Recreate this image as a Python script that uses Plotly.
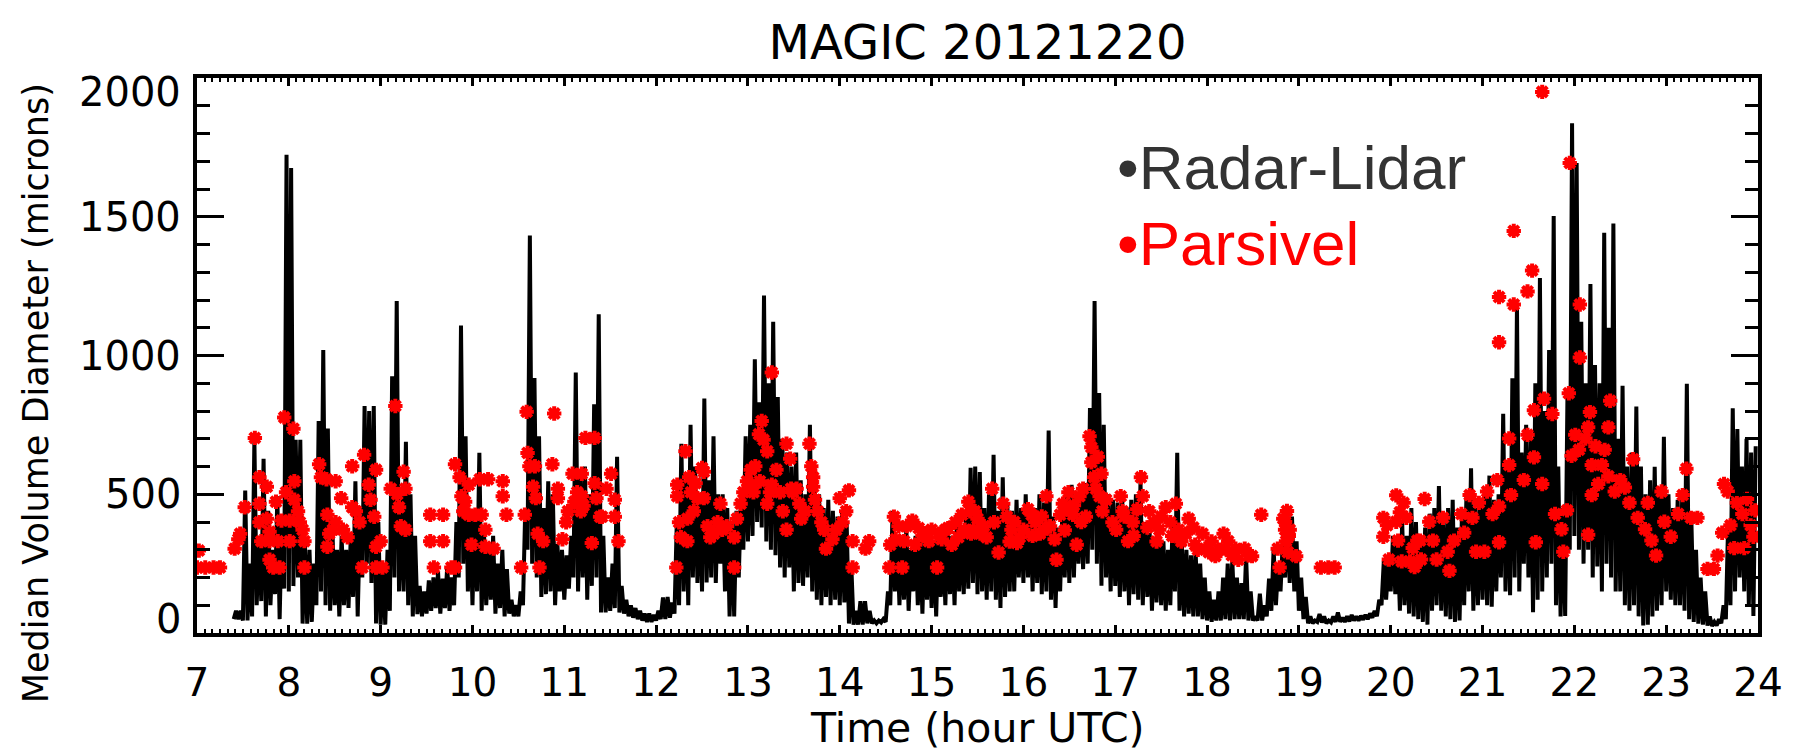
import plotly.graph_objects as go

# ---------------- data ----------------
# Radar-Lidar median volume diameter: minimum / maximum in consecutive 0.05 h bins
rl_start = 7.40
rl_step = 0.05
rl_low = [
    50, 50, 45, 45, 60, 100, 115, 60, 100, 140, 50, 160,
    150, 169, 200, 34, 34, 40, 100, 150, 100, 80, 100, 60, 100, 90, 130, 60, 200, 250, 180, 34,
    30, 30, 80, 200, 150, 150, 100, 60, 68, 60, 70, 80, 90, 70, 90, 80, 100, 200, 250, 150,
    100, 150, 80, 100, 120, 70, 90, 60, 70, 60, 60, 100, 300, 250, 200, 130, 140, 150, 100, 150,
    120, 160, 200, 150, 200, 120, 170, 200, 74, 74, 80, 90, 74, 70, 60, 55, 50, 45, 40, 40,
    45, 50, 50, 55, 70, 100, 150, 100, 200, 180, 150, 182, 200, 180, 250, 150, 60, 60, 200, 300,
    330, 350, 400, 380, 330, 300, 280, 236, 200, 236, 150, 180, 170, 200, 150, 120, 100, 130, 100, 120,
    100, 110, 34, 30, 30, 30, 35, 35, 35, 38, 40, 100, 150, 100, 120, 80, 150, 100, 70, 120,
    90, 60, 130, 100, 140, 100, 150, 140, 160, 180, 140, 150, 120, 150, 120, 90, 130, 150, 150, 200,
    180, 200, 150, 180, 140, 150, 120, 90, 150, 200, 180, 200, 250, 230, 250, 300, 250, 170, 200, 150,
    170, 130, 150, 100, 140, 120, 100, 130, 80, 110, 100, 80, 100, 150, 80, 60, 70, 60, 60, 50,
    45, 40, 45, 45, 50, 45, 50, 50, 50, 45, 45, 45, 45, 60, 80, 100, 150, 200, 180, 150,
    80, 50, 35, 35, 40, 38, 35, 38, 40, 40, 40, 42, 45, 45, 48, 50, 55, 60, 100, 120,
    150, 140, 80, 100, 70, 60, 50, 40, 30, 80, 100, 80, 60, 50, 40, 45, 100, 150, 80, 100,
    120, 100, 95, 150, 200, 150, 136, 200, 150, 250, 200, 75, 120, 150, 200, 250, 100, 60, 61, 300,
    350, 300, 250, 300, 200, 240, 150, 250, 200, 150, 150, 100, 80, 100, 60, 27, 30, 60, 80, 100,
    150, 120, 100, 100, 80, 50, 40, 34, 30, 27, 25, 27, 35, 50, 100, 150, 200, 150, 100, 61,
]
rl_high = [
    80, 80, 513, 250, 696, 350, 628, 440, 300, 493, 420, 1723,
    1676, 696, 696, 330, 300, 250, 764, 1020, 737, 370, 300, 350, 300, 350, 547, 400, 818, 800, 818, 400,
    250, 300, 925, 1196, 500, 689, 500, 350, 170, 150, 190, 200, 220, 196, 240, 200, 400, 1108, 709, 440,
    440, 649, 370, 300, 350, 250, 300, 230, 120, 100, 150, 450, 1432, 919, 709, 450, 547, 500, 320, 300,
    280, 350, 939, 574, 600, 500, 824, 1149, 350, 200, 250, 635, 170, 120, 100, 90, 80, 70, 70, 65,
    80, 128, 130, 110, 400, 682, 550, 750, 600, 500, 845, 550, 709, 500, 500, 450, 400, 440, 500, 709,
    750, 986, 831, 1216, 900, 1122, 850, 700, 650, 600, 650, 550, 500, 750, 600, 500, 450, 480, 440, 420,
    440, 400, 250, 80, 115, 115, 80, 45, 45, 50, 150, 440, 350, 330, 380, 300, 350, 330, 360, 340,
    330, 370, 330, 380, 350, 400, 380, 420, 595, 600, 580, 450, 500, 642, 440, 561, 470, 440, 480, 450,
    500, 460, 450, 500, 470, 730, 420, 380, 450, 500, 534, 500, 530, 540, 811, 1196, 865, 750, 500, 480,
    470, 500, 450, 480, 500, 547, 400, 360, 340, 370, 330, 300, 400, 649, 330, 300, 280, 300, 250, 200,
    150, 120, 150, 200, 250, 263, 200, 180, 277, 150, 60, 142, 100, 196, 304, 250, 330, 440, 420, 330,
    200, 130, 60, 45, 68, 60, 45, 60, 74, 55, 60, 65, 60, 62, 65, 70, 80, 120, 260, 250,
    350, 330, 400, 350, 450, 400, 350, 380, 430, 450, 530, 400, 450, 480, 380, 420, 500, 594, 450, 480,
    500, 567, 480, 500, 790, 600, 918, 1177, 650, 750, 700, 900, 1279, 800, 1020, 1503, 600, 450, 864, 1837,
    1694, 1122, 900, 1258, 966, 900, 1442, 1100, 1476, 700, 891, 600, 650, 816, 600, 500, 550, 599, 500, 707,
    500, 450, 480, 500, 898, 400, 300, 200, 150, 60, 40, 50, 100, 400, 810, 735, 600, 700, 650, 673,
]

# Parsivel observations: (hour UTC, median volume diameter in microns)
parsivel_obs = [
    (7.0, 236), (7.02, 297), (7.09, 236), (7.18, 236), (7.25, 236),
    (7.41, 304), (7.45, 338), (7.47, 358), (7.52, 453), (7.63, 703),
    (7.68, 561), (7.68, 466), (7.68, 399), (7.70, 331),
    (7.76, 527), (7.76, 412), (7.79, 365), (7.79, 331), (7.79, 264), (7.83, 236),
    (7.86, 473), (7.88, 331), (7.9, 236), (7.92, 405), (7.95, 777),
    (7.97, 507), (8.01, 405), (8.01, 331), (8.05, 736), (8.06, 547),
    (8.06, 480), (8.1, 439), (8.12, 399), (8.15, 372), (8.17, 331), (8.17, 236),
    (8.33, 608), (8.35, 561), (8.41, 554), (8.51, 547),
    (8.42, 426), (8.44, 358), (8.42, 311),
    (8.48, 372), (8.51, 399), (8.57, 486), (8.59, 372), (8.64, 345), (8.69, 601),
    (8.69, 453), (8.73, 439), (8.77, 399), (8.8, 236),
    (8.82, 642), (8.87, 534), (8.89, 480), (8.93, 419),
    (8.95, 588), (8.95, 311), (9.0, 331), (8.95, 236), (9.02, 236),
    (9.11, 520), (9.16, 818), (9.18, 500), (9.2, 453), (9.22, 385), (9.25, 581), (9.27, 520), (9.27, 372),
    (9.54, 426), (9.54, 331), (9.58, 236), (9.68, 426), (9.68, 331), (9.77, 236), (9.81, 236),
    (9.81, 608), (9.86, 561), (9.88, 493), (9.9, 439), (9.92, 473), (9.96, 534), (9.96, 426), (9.99, 318), (10.03, 426),
    (10.08, 554), (10.1, 426), (10.14, 372), (10.14, 311), (10.17, 554), (10.23, 304),
    (10.33, 547), (10.33, 493), (10.37, 426),
    (10.53, 236), (10.57, 426), (10.59, 797), (10.6, 649), (10.62, 601), (10.68, 601), (10.66, 527), (10.69, 486),
    (10.71, 358), (10.73, 236), (10.77, 331),
    (10.87, 608), (10.89, 791), (10.93, 520), (10.93, 486),
    (10.98, 338), (11.02, 399), (11.04, 439), (11.09, 574), (11.11, 473), (11.14, 507), (11.18, 439), (11.23, 703),
    (11.19, 574), (11.19, 493), (11.21, 459), (11.3, 324), (11.33, 703),
    (11.33, 540), (11.35, 486), (11.39, 419), (11.41, 419),
    (11.46, 520), (11.51, 574), (11.55, 480), (11.55, 419), (11.59, 331),
    (12.22, 236), (12.23, 534), (12.23, 493), (12.25, 399), (12.27, 345),
    (12.32, 655), (12.36, 561), (12.38, 507), (12.43, 540), (12.45, 486), (12.5, 595), (12.52, 581), (12.52, 486),
    (12.34, 412), (12.34, 331), (12.41, 439), (12.56, 385), (12.59, 345), (12.63, 358), (12.67, 399), (12.7, 466),
    (12.72, 372), (12.77, 385), (12.85, 236), (12.85, 345), (12.88, 412), (12.92, 466), (12.95, 507), (12.99, 547),
    (13.03, 588), (13.04, 534), (13.08, 601), (13.12, 716), (13.15, 764), (13.17, 696), (13.21, 655), (13.24, 507),
    (13.26, 939),
    (13.06, 507), (13.13, 547), (13.21, 466), (13.26, 534), (13.31, 588), (13.35, 507), (13.38, 439), (13.42, 372),
    (13.42, 682), (13.46, 628), (13.47, 520), (13.49, 507), (13.53, 520), (13.56, 466), (13.58, 412), (13.62, 439),
    (13.67, 682), (13.69, 601), (13.71, 561), (13.71, 527), (13.73, 480), (13.76, 439), (13.8, 399), (13.83, 372), (13.85, 304),
    (14.0, 486), (14.1, 514), (14.07, 439), (14.03, 399), (13.96, 372), (13.92, 338), (14.14, 331), (14.14, 236),
    (14.28, 304), (14.32, 331),
    (14.54, 236), (14.55, 318), (14.59, 419), (14.64, 385), (14.68, 236), (14.73, 385), (14.79, 405), (14.86, 378),
    (14.93, 358), (15.0, 372), (15.06, 236), (15.08, 358), (15.15, 372), (15.18, 378), (15.26, 399), (15.33, 426),
    (15.4, 473), (15.47, 439),
    (14.61, 338), (14.7, 331), (14.82, 318), (14.9, 351), (14.97, 331), (15.11, 338), (15.22, 318), (15.29, 345),
    (15.36, 372), (15.43, 358),
    (15.42, 439), (15.46, 372), (15.5, 412), (15.53, 358), (15.57, 385), (15.6, 345),
    (15.66, 520), (15.68, 399), (15.73, 290),
    (15.78, 466), (15.82, 419), (15.87, 372), (15.93, 324), (15.96, 345), (16.0, 372), (16.05, 446), (16.09, 426),
    (16.13, 399), (16.18, 358), (16.22, 372), (16.25, 493), (16.29, 385), (16.34, 338), (16.36, 264),
    (15.85, 330), (15.9, 400), (16.1, 350), (16.2, 420),
    (16.4, 426), (16.43, 466), (16.49, 507), (16.5, 446), (16.54, 426), (16.58, 318), (16.61, 493), (16.65, 520), (16.68, 419),
    (16.45, 370), (16.55, 460), (16.63, 400),
    (16.72, 709), (16.74, 669), (16.74, 615), (16.81, 635), (16.77, 561), (16.85, 574), (16.79, 520), (16.83, 493),
    (16.86, 439), (16.9, 480), (16.97, 399), (17.01, 372), (17.06, 493), (17.08, 439), (17.14, 331), (17.19, 399),
    (17.24, 446), (17.28, 561), (17.3, 493), (17.37, 439), (17.42, 399), (17.48, 372), (17.55, 453), (17.6, 399),
    (17.66, 466), (17.69, 372), (17.77, 358), (17.8, 412), (17.87, 318), (17.95, 358), (17.98, 304), (18.02, 291),
    (17.1, 420), (17.2, 350), (17.35, 380), (17.45, 330), (17.5, 420), (17.62, 350), (17.72, 330), (17.85, 380),
    (17.9, 300), (18.05, 330), (18.13, 300), (18.27, 280), (18.45, 280),
    (18.09, 277), (18.18, 358), (18.2, 304), (18.23, 331), (18.31, 304), (18.34, 264), (18.41, 304), (18.49, 277),
    (18.59, 426), (18.77, 304), (18.79, 236), (18.83, 412), (18.85, 372), (18.86, 331), (18.88, 291), (18.9, 372),
    (18.97, 277), (18.85, 400), (18.87, 440), (18.89, 350),
    (19.24, 236), (19.32, 236), (19.39, 236),
    (19.92, 415), (19.92, 347), (19.96, 388), (19.98, 265), (20.06, 496), (20.06, 401), (20.08, 333),
    (20.12, 258), (20.21, 258), (20.29, 333), (20.33, 265),
    (20.1, 435), (20.14, 469), (20.17, 415), (20.24, 306), (20.26, 238), (20.32, 333), (20.37, 483), (20.42, 401),
    (20.46, 333), (20.5, 265), (20.57, 415), (20.62, 293), (20.64, 224), (20.69, 333), (20.77, 429), (20.8, 361),
    (20.86, 497), (20.89, 415), (20.93, 293), (20.96, 469), (21.02, 293), (21.05, 510), (21.11, 429), (21.16, 551),
    (21.18, 456), (21.18, 327), (21.18, 1211), (21.18, 1048),
    (21.29, 701), (21.29, 605), (21.31, 497), (21.34, 1184), (21.34, 1449), (21.45, 551), (21.49, 714), (21.49, 1231),
    (21.54, 1306), (21.56, 803), (21.56, 633), (21.58, 327), (21.65, 537), (21.67, 844), (21.76, 789), (21.79, 429),
    (21.86, 374), (21.88, 293), (21.92, 442), (21.65, 1950),
    (21.94, 864), (21.95, 1694), (22.06, 1184), (22.06, 993),
    (21.97, 639), (22.01, 714), (22.05, 660), (22.12, 701), (22.15, 741), (22.17, 796), (22.19, 605), (22.23, 673),
    (22.26, 537), (22.3, 605), (22.33, 660), (22.37, 565), (22.37, 741), (22.39, 837), (22.15, 354), (22.19, 497),
    (22.44, 510), (22.5, 551), (22.55, 524), (22.6, 469), (22.64, 626), (22.69, 415), (22.77, 374), (22.8, 469),
    (22.84, 333), (22.89, 279), (22.95, 510), (22.98, 401), (23.05, 347), (23.13, 429), (23.18, 497), (23.22, 592),
    (23.27, 415), (23.34, 415),
    (23.45, 231), (23.52, 231), (23.56, 279), (23.61, 361), (23.63, 537), (23.67, 510), (23.7, 388), (23.74, 306),
    (23.77, 469), (23.83, 429), (23.85, 306), (23.88, 483), (23.92, 388), (23.95, 347), (23.97, 442),
]

x_tick_vals = list(range(7, 25))
x_tick_text = [str(v) for v in x_tick_vals]
y_tick_vals = [0, 500, 1000, 1500, 2000]
y_tick_text = ["0", "500", "1000", "1500", "2000"]

title_text = "MAGIC 20121220"
x_title = "Time (hour UTC)"
y_title = "Median Volume Diameter (microns)"
legend_labels = ["\u2022Radar-Lidar", "\u2022Parsivel"]

# ---------------- build figure ----------------
rl_x, rl_y = [], []
for i, (lo, hi) in enumerate(zip(rl_low, rl_high)):
    t = rl_start + i * rl_step
    rl_x += [t, t + rl_step / 2]
    rl_y += [lo, hi]

pv_x = [p[0] for p in parsivel_obs]
pv_y = [p[1] for p in parsivel_obs]

HFONT = "DejaVu Sans"

fig = go.Figure()
fig.add_trace(go.Scatter(x=rl_x, y=rl_y, mode="lines",
                         line=dict(color="black", width=4), name="Radar-Lidar",
                         hoverinfo="skip"))
fig.add_trace(go.Scatter(x=pv_x, y=pv_y, mode="markers", name="Parsivel",
                         marker=dict(symbol="asterisk-open", size=12, color="red",
                                     line=dict(color="red", width=4))))

axis_common = dict(showline=True, linecolor="black", linewidth=4, mirror="ticks",
                   showgrid=False, zeroline=False, ticks="inside", tickcolor="black",
                   automargin=False)

fig.update_xaxes(range=[7, 24], tickmode="array", tickvals=x_tick_vals, ticktext=x_tick_text,
                 ticklen=8, tickwidth=3,
                 minor=dict(ticks="inside", dtick=1 / 12, tick0=7, ticklen=4, tickwidth=2,
                            tickcolor="black", showgrid=False),
                 tickfont=dict(family=HFONT, size=39, color="black"),
                 ticklabelstandoff=12,
                 **axis_common)
fig.update_yaxes(range=[0, 2000], tickmode="array", tickvals=y_tick_vals,
                 showticklabels=False, ticklen=27, tickwidth=3,
                 minor=dict(ticks="inside", dtick=100, tick0=0, ticklen=13, tickwidth=3,
                            tickcolor="black", showgrid=False),
                 **axis_common)

annotations = []
y_label_shift = {0: 14, 2000: -14}
for v, txt in zip(y_tick_vals, y_tick_text):
    annotations.append(dict(xref="paper", x=0, xanchor="right", xshift=-14,
                            yref="y", y=v, yanchor="middle", yshift=y_label_shift.get(v, 0),
                            text=txt, showarrow=False,
                            font=dict(family=HFONT, size=40, color="black")))
annotations.append(dict(xref="paper", x=0.5, yref="paper", y=0, yanchor="middle", yshift=-95,
                        text=x_title, showarrow=False,
                        font=dict(family=HFONT, size=41, color="black")))
annotations.append(dict(xref="paper", x=0, xshift=-161, xanchor="center",
                        yref="paper", y=0.432, yanchor="middle", textangle=-90,
                        text=y_title, showarrow=False,
                        font=dict(family=HFONT, size=35, color="black")))
legend_colors = ["#333333", "#ff0000"]
legend_y = [1677, 1404]
for txt, col, yy in zip(legend_labels, legend_colors, legend_y):
    annotations.append(dict(xref="x", x=17.0, xanchor="left", yref="y", y=yy, yanchor="middle",
                            text=txt, showarrow=False,
                            font=dict(family="Liberation Sans", size=62, color=col)))

fig.update_layout(
    width=1794, height=754,
    margin=dict(l=197, r=36, t=78, b=121),
    paper_bgcolor="white", plot_bgcolor="white",
    showlegend=False,
    title=dict(text=title_text, x=0.5, xref="paper", y=1 - 42 / 754, yref="container",
               xanchor="center", yanchor="middle",
               font=dict(family=HFONT, size=48, color="black")),
    annotations=annotations,
)

fig.write_html("out.html", config={"displayModeBar": False},
               post_script="document.body.style.margin='0px';document.body.style.overflow='hidden';")
